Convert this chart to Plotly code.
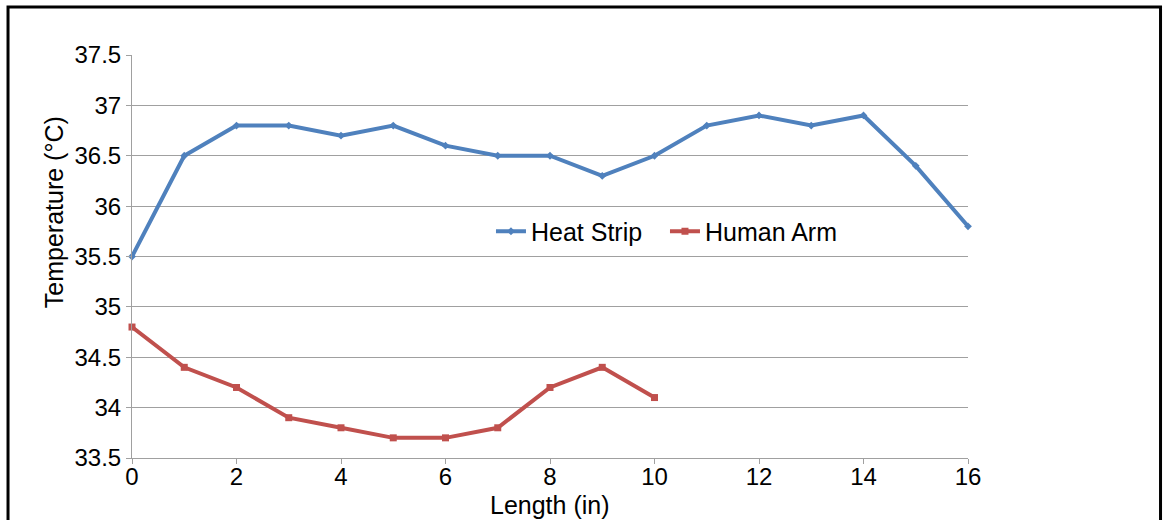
import plotly.graph_objects as go

length = list(range(17))
heat_strip = [35.5, 36.5, 36.8, 36.8, 36.7, 36.8, 36.6, 36.5, 36.5, 36.3, 36.5, 36.8, 36.9, 36.8, 36.9, 36.4, 35.8]
arm_length = list(range(11))
human_arm = [34.8, 34.4, 34.2, 33.9, 33.8, 33.7, 33.7, 33.8, 34.2, 34.4, 34.1]
x_ticks = list(range(0, 17, 2))
y_ticks = [33.5, 34, 34.5, 35, 35.5, 36, 36.5, 37, 37.5]
y_tick_text = ["33.5", "34", "34.5", "35", "35.5", "36", "36.5", "37", "37.5"]

fig = go.Figure()
fig.add_trace(go.Scatter(x=length, y=heat_strip, name="Heat Strip", mode="lines+markers",
                         line=dict(color="#4F81BD", width=4),
                         marker=dict(symbol="diamond", size=6, color="#4F81BD")))
fig.add_trace(go.Scatter(x=arm_length, y=human_arm, name="Human Arm", mode="lines+markers",
                         line=dict(color="#C0504D", width=4),
                         marker=dict(symbol="square", size=7, color="#C0504D")))

family = "Liberation Sans, Arial, sans-serif"
fig.update_layout(
    width=1165, height=520,
    margin=dict(l=132, r=197, t=55, b=62),
    paper_bgcolor="white", plot_bgcolor="white",
    font=dict(family=family, color="black"),
    showlegend=True,
    legend=dict(orientation="h", x=0.4294, y=0.562, xanchor="left", yanchor="middle",
                font=dict(size=25, family=family), bgcolor="rgba(0,0,0,0)",
                itemwidth=30, entrywidth=129, tracegroupgap=0),
    xaxis=dict(range=[0, 16], tickmode="array", tickvals=x_ticks,
               showgrid=False, showline=True, linecolor="#A0A0A0", linewidth=1,
               ticks="outside", ticklen=5, tickcolor="#A0A0A0",
               tickfont=dict(size=24), zeroline=False, ticklabelstandoff=-8),
    yaxis=dict(range=[33.5, 37.5], tickmode="array",
               tickvals=y_ticks, ticktext=y_tick_text,
               showgrid=True, gridcolor="#A0A0A0", gridwidth=1,
               showline=True, linecolor="#A0A0A0", linewidth=1,
               ticks="outside", ticklen=5, tickcolor="#A0A0A0",
               tickfont=dict(size=24), zeroline=False),
    annotations=[
        dict(text="Length (in)", xref="paper", yref="paper", x=0.5, y=-0.1166,
             xanchor="center", yanchor="middle", showarrow=False, font=dict(size=25)),
        dict(text="Temperature (°C)", xref="paper", yref="paper", x=-0.0933, y=0.610,
             xanchor="center", yanchor="middle", textangle=-90, showarrow=False,
             font=dict(size=25)),
    ],
    shapes=[dict(type="rect", xref="paper", yref="paper",
                 x0=-0.1483, x1=1.2303, y0=-0.3, y1=1.119,
                 line=dict(color="black", width=3), fillcolor="rgba(0,0,0,0)", layer="above")],
)
fig.update_traces(cliponaxis=False)
fig.write_html("out.html", config={"displayModeBar": False},
               post_script="document.body.style.margin='0';document.body.style.overflow='hidden';")
